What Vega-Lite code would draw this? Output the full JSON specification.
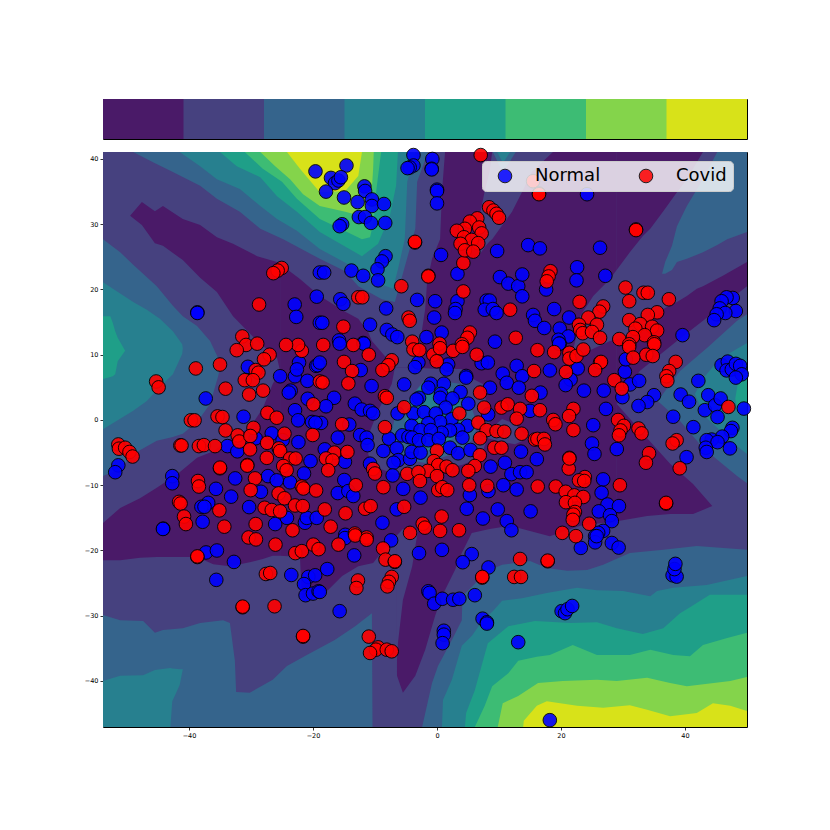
{"$schema":"https://vega.github.io/schema/vega-lite/v6.json","background":"white","padding":{"left":83,"top":98,"right":0,"bottom":0},"spacing":5,"config":{"font":"DejaVu Sans","view":{"stroke":"black","strokeWidth":1}},"vconcat":[{"width":644,"height":40,"data":{"values":[{"a":0,"b":1.02,"l":0},{"a":1,"b":2.02,"l":1},{"a":2,"b":3.02,"l":2},{"a":3,"b":4.02,"l":3},{"a":4,"b":5.02,"l":4},{"a":5,"b":6.02,"l":5},{"a":6,"b":7.02,"l":6},{"a":7,"b":8,"l":7}]},"mark":{"type":"rect","stroke":null},"encoding":{"x":{"field":"a","type":"quantitative","axis":null,"scale":{"domain":[0,8],"nice":false}},"x2":{"field":"b"},"color":{"field":"l","type":"nominal","legend":null,"scale":{"domain":[0,1,2,3,4,5,6,7],"range":["#4a1a68","#46417f","#35648c","#27808f","#1f9f88","#3dbc74","#84d44b","#d8e219"]}}}},{"width":644,"height":575,"resolve":{"scale":{"color":"independent"}},"layer":[{"data":{"values":[
{"r":"base","l":1,"x":-53.87,"y":-47.05,"y2":41.07},{"r":"base","l":1,"x":50,"y":-47.05,"y2":41.07},
{"r":"a1","l":0,"x":-49.5,"y":31.3,"y2":31.3},{"r":"a1","l":0,"x":-47.6,"y":33.4,"y2":29.9},{"r":"a1","l":0,"x":-45.5,"y":32,"y2":27.1},{"r":"a1","l":0,"x":-44.2,"y":32.8,"y2":26.7},{"r":"a1","l":0,"x":-41,"y":30.8,"y2":24.5},{"r":"a1","l":0,"x":-38.2,"y":29.9,"y2":21.8},{"r":"a1","l":0,"x":-35.5,"y":28,"y2":19.6},{"r":"a1","l":0,"x":-32.9,"y":27,"y2":15.9},{"r":"a1","l":0,"x":-29,"y":25.1,"y2":12.1},{"r":"a1","l":0,"x":-25.8,"y":24.2,"y2":9.5},{"r":"a1","l":0,"x":-25.3,"y":23.9,"y2":7.5},
{"r":"a2","l":0,"x":-53.87,"y":-15.8,"y2":-21.5},{"r":"a2","l":0,"x":-51.1,"y":-13.5,"y2":-21.5},{"r":"a2","l":0,"x":-47.9,"y":-12,"y2":-21.1},{"r":"a2","l":0,"x":-45.2,"y":-10.4,"y2":-21},{"r":"a2","l":0,"x":-41.9,"y":-8.3,"y2":-21},{"r":"a2","l":0,"x":-38.7,"y":-5.8,"y2":-21},{"r":"a2","l":0,"x":-36.1,"y":-4.8,"y2":-22.1},{"r":"a2","l":0,"x":-33.4,"y":-2.9,"y2":-22.4},{"r":"a2","l":0,"x":-30.2,"y":-1.2,"y2":-21.8},{"r":"a2","l":0,"x":-28.1,"y":1.8,"y2":-21.3},{"r":"a2","l":0,"x":-26.5,"y":5.5,"y2":-20.8},{"r":"a2","l":0,"x":-25.3,"y":7.5,"y2":-20.8},
{"r":"ct","l":0,"x":-25.3,"y":23.9,"y2":-4.75},{"r":"ct","l":0,"x":-22.1,"y":21.6,"y2":-4.75},{"r":"ct","l":0,"x":-18.9,"y":19,"y2":-4.75},{"r":"ct","l":0,"x":-14.8,"y":16.6,"y2":-4.75},{"r":"ct","l":0,"x":-12.7,"y":15.5,"y2":-4.75},{"r":"ct","l":0,"x":-11.1,"y":13.5,"y2":-4.75},{"r":"ct","l":0,"x":-10.5,"y":12.1,"y2":-4.75},{"r":"ct","l":0,"x":-6.8,"y":8,"y2":-4.75},{"r":"ct","l":0,"x":-3.5,"y":8,"y2":-4.75},{"r":"ct","l":0,"x":-2.7,"y":12.1,"y2":-4.75},{"r":"ct","l":0,"x":-1.9,"y":17,"y2":-4.75},{"r":"ct","l":0,"x":-1.6,"y":21.1,"y2":-4.75},{"r":"ct","l":0,"x":-0.8,"y":24.7,"y2":-4.75},{"r":"ct","l":0,"x":0.5,"y":27.7,"y2":-4.75},{"r":"ct","l":0,"x":0.8,"y":34.9,"y2":-4.75},{"r":"ct","l":0,"x":1.3,"y":41.07,"y2":-4.75},{"r":"ct","l":0,"x":29,"y":41.07,"y2":-4.75},
{"r":"cb","l":0,"x":-25.3,"y":-20.8,"y2":-4.75},{"r":"cb","l":0,"x":-22.1,"y":-21,"y2":-4.75},{"r":"cb","l":0,"x":-21.8,"y":-27.3,"y2":-4.75},{"r":"cb","l":0,"x":-19.7,"y":-27.1,"y2":-4.75},{"r":"cb","l":0,"x":-17.6,"y":-26.1,"y2":-4.75},{"r":"cb","l":0,"x":-15.3,"y":-23.9,"y2":-4.75},{"r":"cb","l":0,"x":-12.7,"y":-22.4,"y2":-4.75},{"r":"cb","l":0,"x":-10.3,"y":-21.9,"y2":-4.75},{"r":"cb","l":0,"x":-8.4,"y":-19.6,"y2":-4.75},{"r":"cb","l":0,"x":-6.6,"y":-17.8,"y2":-4.75},{"r":"cb","l":0,"x":-6.45,"y":-39.2,"y2":-4.75},{"r":"cb","l":0,"x":-5.5,"y":-41.8,"y2":-4.75},{"r":"cb","l":0,"x":-3.5,"y":-39.2,"y2":-4.75},{"r":"cb","l":0,"x":-1.9,"y":-35.2,"y2":-4.75},{"r":"cb","l":0,"x":-0.3,"y":-30,"y2":-4.75},{"r":"cb","l":0,"x":0.8,"y":-27,"y2":-4.75},{"r":"cb","l":0,"x":2.9,"y":-23,"y2":-4.75},{"r":"cb","l":0,"x":4,"y":-20.4,"y2":-4.75},{"r":"cb","l":0,"x":5.6,"y":-17.3,"y2":-4.75},{"r":"cb","l":0,"x":8.5,"y":-16.7,"y2":-4.75},{"r":"cb","l":0,"x":11.8,"y":-16.2,"y2":-4.75},{"r":"cb","l":0,"x":15,"y":-17,"y2":-4.75},{"r":"cb","l":0,"x":18.2,"y":-17.8,"y2":-4.75},{"r":"cb","l":0,"x":23.1,"y":-16.2,"y2":-4.75},{"r":"cb","l":0,"x":29,"y":-15.5,"y2":-4.75},
{"r":"arm","l":0,"x":29,"y":41.07,"y2":2.45},{"r":"arm","l":0,"x":32.7,"y":41.07,"y2":7.5},{"r":"arm","l":0,"x":38.7,"y":41.07,"y2":12.1},{"r":"arm","l":0,"x":42.9,"y":41.07,"y2":15.2},{"r":"arm","l":0,"x":50,"y":41.07,"y2":20.5},
{"r":"tri","l":0,"x":29,"y":2.45,"y2":-15.5},{"r":"tri","l":0,"x":33.9,"y":-2.8,"y2":-14.7},{"r":"tri","l":0,"x":37.6,"y":-6.7,"y2":-14.4},{"r":"tri","l":0,"x":41.3,"y":-9.8,"y2":-14.4},{"r":"tri","l":0,"x":44.4,"y":-13.2,"y2":-13.2},
{"r":"w1","l":1,"x":6.6,"y":25.1,"y2":25.1},{"r":"w1","l":1,"x":6.9,"y":31.3,"y2":25.4},{"r":"w1","l":1,"x":7.7,"y":35.1,"y2":26.5},{"r":"w1","l":1,"x":8.5,"y":38.2,"y2":27.4},{"r":"w1","l":1,"x":8.9,"y":41.07,"y2":27.7},{"r":"w1","l":1,"x":12.1,"y":41.07,"y2":31.9},{"r":"w1","l":1,"x":13.7,"y":41.07,"y2":34.9},{"r":"w1","l":1,"x":15.3,"y":41.07,"y2":38},{"r":"w1","l":1,"x":18.7,"y":41.07,"y2":41.07},
{"r":"w2","l":1,"x":21.5,"y":9,"y2":9},{"r":"w2","l":1,"x":22.3,"y":12.1,"y2":9.5},{"r":"w2","l":1,"x":23.1,"y":15.9,"y2":10},{"r":"w2","l":1,"x":25.2,"y":19,"y2":10.9},{"r":"w2","l":1,"x":27.9,"y":21.6,"y2":12.1},{"r":"w2","l":1,"x":31.1,"y":25.7,"y2":12.9},{"r":"w2","l":1,"x":33.2,"y":28.2,"y2":13.5},{"r":"w2","l":1,"x":34.4,"y":29.3,"y2":14.9},{"r":"w2","l":1,"x":36.5,"y":32,"y2":17},{"r":"w2","l":1,"x":38.7,"y":34.9,"y2":18.1},{"r":"w2","l":1,"x":40.3,"y":36.9,"y2":19},{"r":"w2","l":1,"x":41.9,"y":39.5,"y2":20.1},{"r":"w2","l":1,"x":42.9,"y":41.07,"y2":20.5},{"r":"w2","l":1,"x":46.1,"y":41.07,"y2":22.1},{"r":"w2","l":1,"x":50,"y":41.07,"y2":24.2},
{"r":"w4","l":1,"x":-6.6,"y":-17.8,"y2":-39.2},{"r":"w4","l":1,"x":-6.3,"y":-17.5,"y2":-34.2},{"r":"w4","l":1,"x":-5.5,"y":-16.7,"y2":-27.6},{"r":"w4","l":1,"x":-4,"y":-16.7,"y2":-22.4},{"r":"w4","l":1,"x":-3.1,"y":-17,"y2":-17},
{"r":"blob","l":1,"x":-11.1,"y":-5.2,"y2":-5.2},{"r":"blob","l":1,"x":-10.8,"y":-1.7,"y2":-6},{"r":"blob","l":1,"x":-9.5,"y":1.4,"y2":-7.4},{"r":"blob","l":1,"x":-7.3,"y":5.5,"y2":-8.1},{"r":"blob","l":1,"x":-6.8,"y":8,"y2":-8.1},{"r":"blob","l":1,"x":-3.1,"y":8,"y2":-8.3},{"r":"blob","l":1,"x":0.2,"y":7.8,"y2":-7.5},{"r":"blob","l":1,"x":4,"y":7.8,"y2":-6.9},{"r":"blob","l":1,"x":5.6,"y":6.4,"y2":-6.3},{"r":"blob","l":1,"x":7.4,"y":5.5,"y2":-4.75},{"r":"blob","l":1,"x":8.5,"y":-0.15,"y2":-1.7},
{"r":"lobe","l":1,"x":8.2,"y":-1.7,"y2":-2.8},{"r":"lobe","l":1,"x":10.5,"y":0.15,"y2":-3.4},{"r":"lobe","l":1,"x":12.6,"y":-0.6,"y2":-3.7},{"r":"lobe","l":1,"x":14.7,"y":-2.8,"y2":-2.8},
{"r":"t2","l":2,"x":9,"y":41.07,"y2":41.07},{"r":"t2","l":2,"x":10.65,"y":37.9,"y2":41.07},{"r":"t2","l":2,"x":12.7,"y":41.07,"y2":41.07},
{"r":"left2","l":2,"x":-53.87,"y":27.7,"y2":-8.6},{"r":"left2","l":2,"x":-51.1,"y":25.7,"y2":-7.5},{"r":"left2","l":2,"x":-49,"y":23.8,"y2":-5.2},{"r":"left2","l":2,"x":-45.2,"y":20.5,"y2":-3.2},{"r":"left2","l":2,"x":-42.6,"y":17.5,"y2":-2.6},{"r":"left2","l":2,"x":-41,"y":15.9,"y2":-2.1},{"r":"left2","l":2,"x":-38.7,"y":14.4,"y2":-0.3},{"r":"left2","l":2,"x":-36.6,"y":12.1,"y2":2.45},{"r":"left2","l":2,"x":-35.3,"y":9.5,"y2":6.7},{"r":"left2","l":2,"x":-35,"y":8.1,"y2":8.1},
{"r":"top2","l":2,"x":-49,"y":41.07,"y2":41.07},{"r":"top2","l":2,"x":-45.8,"y":41.07,"y2":39.5},{"r":"top2","l":2,"x":-42.6,"y":41.07,"y2":38},{"r":"top2","l":2,"x":-38.2,"y":41.07,"y2":35.9},{"r":"top2","l":2,"x":-35.5,"y":41.07,"y2":33.9},{"r":"top2","l":2,"x":-31.8,"y":41.07,"y2":31.9},{"r":"top2","l":2,"x":-28.5,"y":41.07,"y2":29.3},{"r":"top2","l":2,"x":-24.8,"y":41.07,"y2":27.7},{"r":"top2","l":2,"x":-18.9,"y":41.07,"y2":24.7},{"r":"top2","l":2,"x":-14.8,"y":41.07,"y2":22.8},{"r":"top2","l":2,"x":-12.7,"y":41.07,"y2":20.5},{"r":"top2","l":2,"x":-8.9,"y":41.07,"y2":18.5},{"r":"top2","l":2,"x":-6.8,"y":41.07,"y2":18.1},{"r":"top2","l":2,"x":-5.6,"y":41.07,"y2":22.1},{"r":"top2","l":2,"x":-3.5,"y":41.07,"y2":29.3},{"r":"top2","l":2,"x":-3.2,"y":41.07,"y2":36.5},{"r":"top2","l":2,"x":-1.45,"y":41.07,"y2":41.07},
{"r":"ur2","l":2,"x":36.3,"y":22.4,"y2":22.4},{"r":"ur2","l":2,"x":36.8,"y":24.2,"y2":22.4},{"r":"ur2","l":2,"x":37.9,"y":26.7,"y2":23},{"r":"ur2","l":2,"x":38.7,"y":29.7,"y2":24.2},{"r":"ur2","l":2,"x":40.3,"y":32.8,"y2":24.7},{"r":"ur2","l":2,"x":42.9,"y":36.9,"y2":25.7},{"r":"ur2","l":2,"x":45.2,"y":41.07,"y2":26.8},{"r":"ur2","l":2,"x":46.8,"y":41.07,"y2":27.7},{"r":"ur2","l":2,"x":50,"y":41.07,"y2":28.8},
{"r":"lr2","l":2,"x":35.6,"y":2.9,"y2":2.9},{"r":"lr2","l":2,"x":39.2,"y":7.5,"y2":-0.15},{"r":"lr2","l":2,"x":42.4,"y":10.1,"y2":-3.7},{"r":"lr2","l":2,"x":43.5,"y":11,"y2":-4.75},{"r":"lr2","l":2,"x":48.4,"y":15.2,"y2":-8.6},{"r":"lr2","l":2,"x":50,"y":16.2,"y2":-9.7},
{"r":"bl2","l":2,"x":-53.87,"y":-47.05,"y2":-29.9},{"r":"bl2","l":2,"x":-51.1,"y":-47.05,"y2":-30.7},{"r":"bl2","l":2,"x":-47.4,"y":-47.05,"y2":-30.8},{"r":"bl2","l":2,"x":-45.5,"y":-47.05,"y2":-32.6},{"r":"bl2","l":2,"x":-44.2,"y":-47.05,"y2":-32.2},{"r":"bl2","l":2,"x":-41,"y":-47.05,"y2":-31.9},{"r":"bl2","l":2,"x":-38.2,"y":-47.05,"y2":-31.1},{"r":"bl2","l":2,"x":-34.5,"y":-47.05,"y2":-30.7},{"r":"bl2","l":2,"x":-33.4,"y":-47.05,"y2":-31.1},{"r":"bl2","l":2,"x":-32.6,"y":-47.05,"y2":-36.9},{"r":"bl2","l":2,"x":-32.4,"y":-47.05,"y2":-41.7},{"r":"bl2","l":2,"x":-30.2,"y":-47.05,"y2":-41.8},{"r":"bl2","l":2,"x":-26.5,"y":-47.05,"y2":-39.8},{"r":"bl2","l":2,"x":-24.2,"y":-47.05,"y2":-37.7},{"r":"bl2","l":2,"x":-21,"y":-47.05,"y2":-36},{"r":"bl2","l":2,"x":-16.5,"y":-47.05,"y2":-33.7},{"r":"bl2","l":2,"x":-13.2,"y":-47.05,"y2":-31.6},{"r":"bl2","l":2,"x":-10.5,"y":-47.05,"y2":-29.6},{"r":"bl2","l":2,"x":-10.4,"y":-47.05,"y2":-47.05},
{"r":"br2","l":2,"x":-2.4,"y":-47.05,"y2":-47.05},{"r":"br2","l":2,"x":-0.8,"y":-47.05,"y2":-40.3},{"r":"br2","l":2,"x":0.16,"y":-47.05,"y2":-37.7},{"r":"br2","l":2,"x":2.4,"y":-47.05,"y2":-33.7},{"r":"br2","l":2,"x":4,"y":-47.05,"y2":-30.7},{"r":"br2","l":2,"x":4.1,"y":-47.05,"y2":-27},{"r":"br2","l":2,"x":8.2,"y":-47.05,"y2":-23.1},{"r":"br2","l":2,"x":10.5,"y":-47.05,"y2":-22.2},{"r":"br2","l":2,"x":15,"y":-47.05,"y2":-21.6},{"r":"br2","l":2,"x":17.7,"y":-47.05,"y2":-22.7},{"r":"br2","l":2,"x":21,"y":-47.05,"y2":-23.1},{"r":"br2","l":2,"x":24.2,"y":-47.05,"y2":-23},{"r":"br2","l":2,"x":26.8,"y":-47.05,"y2":-22.2},{"r":"br2","l":2,"x":31.1,"y":-47.05,"y2":-20.4},{"r":"br2","l":2,"x":36.5,"y":-47.05,"y2":-19.9},{"r":"br2","l":2,"x":41.9,"y":-47.05,"y2":-19.3},{"r":"br2","l":2,"x":50,"y":-47.05,"y2":-19.9},
{"r":"c2","l":2,"x":-7.6,"y":-2.8,"y2":-2.8},{"r":"c2","l":2,"x":-6.8,"y":0.3,"y2":-4.3},{"r":"c2","l":2,"x":-5.2,"y":2.45,"y2":-6},{"r":"c2","l":2,"x":-1.9,"y":6.3,"y2":-6.6},{"r":"c2","l":2,"x":4,"y":5.5,"y2":-4.75},{"r":"c2","l":2,"x":5.6,"y":1.8,"y2":-3.2},{"r":"c2","l":2,"x":6.6,"y":-0.9,"y2":-0.9},
{"r":"t3","l":3,"x":9.7,"y":41.07,"y2":41.07},{"r":"t3","l":3,"x":10.65,"y":39.4,"y2":41.07},{"r":"t3","l":3,"x":11.8,"y":41.07,"y2":41.07},
{"r":"left3","l":3,"x":-53.87,"y":21.1,"y2":-1.4},{"r":"left3","l":3,"x":-49,"y":18.1,"y2":1.4},{"r":"left3","l":3,"x":-46.8,"y":16.9,"y2":2.9},{"r":"left3","l":3,"x":-44.7,"y":15.5,"y2":5.1},{"r":"left3","l":3,"x":-42.6,"y":13.6,"y2":7},{"r":"left3","l":3,"x":-41.1,"y":11.6,"y2":10.1},{"r":"left3","l":3,"x":-41,"y":11,"y2":11},
{"r":"top3","l":3,"x":-41.5,"y":41.07,"y2":41.07},{"r":"top3","l":3,"x":-38.2,"y":41.07,"y2":38.9},{"r":"top3","l":3,"x":-35.5,"y":41.07,"y2":36.9},{"r":"top3","l":3,"x":-31.8,"y":41.07,"y2":35.4},{"r":"top3","l":3,"x":-28.5,"y":41.07,"y2":32.8},{"r":"top3","l":3,"x":-25.8,"y":41.07,"y2":30.8},{"r":"top3","l":3,"x":-22.6,"y":41.07,"y2":29},{"r":"top3","l":3,"x":-18.9,"y":41.07,"y2":26.2},{"r":"top3","l":3,"x":-13.2,"y":41.07,"y2":23.3},{"r":"top3","l":3,"x":-9.5,"y":41.07,"y2":21},{"r":"top3","l":3,"x":-7.1,"y":41.07,"y2":20.1},{"r":"top3","l":3,"x":-6.3,"y":41.07,"y2":23.1},{"r":"top3","l":3,"x":-5.2,"y":41.07,"y2":27.7},{"r":"top3","l":3,"x":-4.8,"y":41.07,"y2":36.5},{"r":"top3","l":3,"x":-3.5,"y":41.07,"y2":41.07},
{"r":"lr3","l":3,"x":41.6,"y":4,"y2":4},{"r":"lr3","l":3,"x":42.9,"y":6.4,"y2":1.1},{"r":"lr3","l":3,"x":43.5,"y":7,"y2":0.3},{"r":"lr3","l":3,"x":45.2,"y":9,"y2":-1.2},{"r":"lr3","l":3,"x":47.3,"y":10.3,"y2":-3.2},{"r":"lr3","l":3,"x":50,"y":11.8,"y2":-5.2},
{"r":"bl3","l":3,"x":-53.87,"y":-47.05,"y2":-40},{"r":"bl3","l":3,"x":-51.1,"y":-47.05,"y2":-39.2},{"r":"bl3","l":3,"x":-47.4,"y":-47.05,"y2":-39.1},{"r":"bl3","l":3,"x":-45.5,"y":-47.05,"y2":-38.3},{"r":"bl3","l":3,"x":-43,"y":-47.05,"y2":-38},{"r":"bl3","l":3,"x":-42.7,"y":-43.1,"y2":-38.1},{"r":"bl3","l":3,"x":-41.5,"y":-40.6,"y2":-38.2},{"r":"bl3","l":3,"x":-41,"y":-38.2,"y2":-38.2},
{"r":"br3","l":3,"x":0.8,"y":-47.05,"y2":-47.05},{"r":"br3","l":3,"x":0.97,"y":-47.05,"y2":-42.9},{"r":"br3","l":3,"x":2.4,"y":-47.05,"y2":-39.8},{"r":"br3","l":3,"x":4,"y":-47.05,"y2":-34.6},{"r":"br3","l":3,"x":5.6,"y":-47.05,"y2":-33.1},{"r":"br3","l":3,"x":7.3,"y":-47.05,"y2":-30.8},{"r":"br3","l":3,"x":9,"y":-47.05,"y2":-29.3},{"r":"br3","l":3,"x":10.5,"y":-47.05,"y2":-27.7},{"r":"br3","l":3,"x":13.7,"y":-47.05,"y2":-27.3},{"r":"br3","l":3,"x":17.7,"y":-47.05,"y2":-26.5},{"r":"br3","l":3,"x":22.6,"y":-47.05,"y2":-25.7},{"r":"br3","l":3,"x":25.8,"y":-47.05,"y2":-26.1},{"r":"br3","l":3,"x":30,"y":-47.05,"y2":-26.2},{"r":"br3","l":3,"x":34.4,"y":-47.05,"y2":-27},{"r":"br3","l":3,"x":35.5,"y":-47.05,"y2":-26.2},{"r":"br3","l":3,"x":38.1,"y":-47.05,"y2":-25.7},{"r":"br3","l":3,"x":43.5,"y":-47.05,"y2":-25.3},{"r":"br3","l":3,"x":50,"y":-47.05,"y2":-23.9},
{"r":"c3","l":3,"x":-5.6,"y":-1.7,"y2":-1.7},{"r":"c3","l":3,"x":-4,"y":3.7,"y2":-4},{"r":"c3","l":3,"x":-1.9,"y":6,"y2":-4.75},{"r":"c3","l":3,"x":1.3,"y":5.2,"y2":-4},{"r":"c3","l":3,"x":3.7,"y":2.9,"y2":-1.7},
{"r":"left4","l":4,"x":-53.87,"y":15.9,"y2":6.3},{"r":"left4","l":4,"x":-52.7,"y":15.9,"y2":6.6},{"r":"left4","l":4,"x":-52.3,"y":14.9,"y2":6.7},{"r":"left4","l":4,"x":-51.9,"y":13.6,"y2":7},{"r":"left4","l":4,"x":-51.5,"y":12.6,"y2":9},{"r":"left4","l":4,"x":-50.3,"y":10.6,"y2":10.6},
{"r":"top4","l":4,"x":-35,"y":41.07,"y2":41.07},{"r":"top4","l":4,"x":-32.3,"y":41.07,"y2":38.9},{"r":"top4","l":4,"x":-28.5,"y":41.07,"y2":37.2},{"r":"top4","l":4,"x":-25.8,"y":41.07,"y2":34.3},{"r":"top4","l":4,"x":-22.6,"y":41.07,"y2":31.9},{"r":"top4","l":4,"x":-18.9,"y":41.07,"y2":28.8},{"r":"top4","l":4,"x":-15.6,"y":41.07,"y2":27},{"r":"top4","l":4,"x":-12.1,"y":41.07,"y2":25.1},{"r":"top4","l":4,"x":-9.5,"y":41.07,"y2":27},{"r":"top4","l":4,"x":-7.6,"y":41.07,"y2":31.3},{"r":"top4","l":4,"x":-6.6,"y":41.07,"y2":35.9},{"r":"top4","l":4,"x":-6.3,"y":41.07,"y2":41.07},
{"r":"lr4","l":4,"x":48.1,"y":3.2,"y2":3.2},{"r":"lr4","l":4,"x":48.5,"y":5.5,"y2":1.4},{"r":"lr4","l":4,"x":50,"y":6.4,"y2":2.45},
{"r":"br4","l":4,"x":4.5,"y":-47.05,"y2":-47.05},{"r":"br4","l":4,"x":4.7,"y":-47.05,"y2":-44.9},{"r":"br4","l":4,"x":6.1,"y":-47.05,"y2":-41.4},{"r":"br4","l":4,"x":8.2,"y":-47.05,"y2":-34.2},{"r":"br4","l":4,"x":11.5,"y":-47.05,"y2":-31.6},{"r":"br4","l":4,"x":15.8,"y":-47.05,"y2":-30.8},{"r":"br4","l":4,"x":21.5,"y":-47.05,"y2":-31.1},{"r":"br4","l":4,"x":25.8,"y":-47.05,"y2":-31},{"r":"br4","l":4,"x":29,"y":-47.05,"y2":-31.9},{"r":"br4","l":4,"x":33.2,"y":-47.05,"y2":-32.8},{"r":"br4","l":4,"x":36.5,"y":-47.05,"y2":-31.9},{"r":"br4","l":4,"x":39.2,"y":-47.05,"y2":-29.6},{"r":"br4","l":4,"x":40.8,"y":-47.05,"y2":-28.7},{"r":"br4","l":4,"x":44,"y":-47.05,"y2":-26.8},{"r":"br4","l":4,"x":50,"y":-47.05,"y2":-26.8},
{"r":"top5","l":5,"x":-31,"y":41.07,"y2":41.07},{"r":"top5","l":5,"x":-28.1,"y":41.07,"y2":38.5},{"r":"top5","l":5,"x":-25,"y":41.07,"y2":36.5},{"r":"top5","l":5,"x":-22.6,"y":41.07,"y2":33.9},{"r":"top5","l":5,"x":-18.9,"y":41.07,"y2":30.8},{"r":"top5","l":5,"x":-15.6,"y":41.07,"y2":29.3},{"r":"top5","l":5,"x":-12.1,"y":41.07,"y2":27.7},{"r":"top5","l":5,"x":-10.8,"y":41.07,"y2":28},{"r":"top5","l":5,"x":-10.2,"y":41.07,"y2":30.5},{"r":"top5","l":5,"x":-9.8,"y":41.07,"y2":35.1},{"r":"top5","l":5,"x":-9.2,"y":41.07,"y2":39.7},{"r":"top5","l":5,"x":-9,"y":41.07,"y2":41.07},
{"r":"br5","l":5,"x":6.1,"y":-47.05,"y2":-47.05},{"r":"br5","l":5,"x":7.7,"y":-47.05,"y2":-43.8},{"r":"br5","l":5,"x":8.9,"y":-47.05,"y2":-40.8},{"r":"br5","l":5,"x":11.5,"y":-47.05,"y2":-38.8},{"r":"br5","l":5,"x":13.1,"y":-47.05,"y2":-36.9},{"r":"br5","l":5,"x":16.1,"y":-47.05,"y2":-36.3},{"r":"br5","l":5,"x":18.2,"y":-47.05,"y2":-36},{"r":"br5","l":5,"x":21.9,"y":-47.05,"y2":-34.5},{"r":"br5","l":5,"x":25.8,"y":-47.05,"y2":-36},{"r":"br5","l":5,"x":31.1,"y":-47.05,"y2":-36},{"r":"br5","l":5,"x":34.4,"y":-47.05,"y2":-35.2},{"r":"br5","l":5,"x":38.1,"y":-47.05,"y2":-36},{"r":"br5","l":5,"x":40.8,"y":-47.05,"y2":-36.2},{"r":"br5","l":5,"x":42.9,"y":-47.05,"y2":-34.5},{"r":"br5","l":5,"x":46.8,"y":-47.05,"y2":-33.4},{"r":"br5","l":5,"x":50,"y":-47.05,"y2":-32.6},
{"r":"top6","l":6,"x":-28.5,"y":41.07,"y2":41.07},{"r":"top6","l":6,"x":-26.1,"y":41.07,"y2":38.9},{"r":"top6","l":6,"x":-23.7,"y":41.07,"y2":36.9},{"r":"top6","l":6,"x":-21.6,"y":41.07,"y2":34.6},{"r":"top6","l":6,"x":-18.9,"y":41.07,"y2":32.8},{"r":"top6","l":6,"x":-14.8,"y":41.07,"y2":31.9},{"r":"top6","l":6,"x":-12.4,"y":41.07,"y2":31.3},{"r":"top6","l":6,"x":-11.1,"y":41.07,"y2":31.9},{"r":"top6","l":6,"x":-10.5,"y":41.07,"y2":35.4},{"r":"top6","l":6,"x":-10.3,"y":41.07,"y2":38.5},{"r":"top6","l":6,"x":-10.2,"y":41.07,"y2":41.07},
{"r":"br6","l":6,"x":9.8,"y":-47.05,"y2":-47.05},{"r":"br6","l":6,"x":10.6,"y":-47.05,"y2":-43.4},{"r":"br6","l":6,"x":13.1,"y":-47.05,"y2":-42.3},{"r":"br6","l":6,"x":16.3,"y":-47.05,"y2":-40.3},{"r":"br6","l":6,"x":20.3,"y":-47.05,"y2":-40},{"r":"br6","l":6,"x":25.8,"y":-47.05,"y2":-39.8},{"r":"br6","l":6,"x":29,"y":-47.05,"y2":-40},{"r":"br6","l":6,"x":33.9,"y":-47.05,"y2":-39.5},{"r":"br6","l":6,"x":37.6,"y":-47.05,"y2":-40.3},{"r":"br6","l":6,"x":40.3,"y":-47.05,"y2":-40.8},{"r":"br6","l":6,"x":47.3,"y":-47.05,"y2":-40},{"r":"br6","l":6,"x":50,"y":-47.05,"y2":-39.4},
{"r":"top7","l":7,"x":-24.2,"y":41.07,"y2":41.07},{"r":"top7","l":7,"x":-22.1,"y":41.07,"y2":38.5},{"r":"top7","l":7,"x":-18.9,"y":41.07,"y2":34.9},{"r":"top7","l":7,"x":-14.8,"y":41.07,"y2":35.1},{"r":"top7","l":7,"x":-12.7,"y":41.07,"y2":37.4},{"r":"top7","l":7,"x":-12.1,"y":41.07,"y2":41.07},
{"r":"br7","l":7,"x":13.9,"y":-47.05,"y2":-47.05},{"r":"br7","l":7,"x":14,"y":-47.05,"y2":-46.1},{"r":"br7","l":7,"x":16.1,"y":-47.05,"y2":-43.8},{"r":"br7","l":7,"x":17.7,"y":-47.05,"y2":-43.1},{"r":"br7","l":7,"x":22.6,"y":-47.05,"y2":-43.8},{"r":"br7","l":7,"x":26.8,"y":-47.05,"y2":-44.1},{"r":"br7","l":7,"x":31.1,"y":-47.05,"y2":-43.7},{"r":"br7","l":7,"x":33.9,"y":-47.05,"y2":-44.4},{"r":"br7","l":7,"x":37.6,"y":-47.05,"y2":-45.4},{"r":"br7","l":7,"x":41.9,"y":-47.05,"y2":-44.9},{"r":"br7","l":7,"x":44.5,"y":-47.05,"y2":-43.4},{"r":"br7","l":7,"x":47.3,"y":-47.05,"y2":-43.8},{"r":"br7","l":7,"x":50,"y":-47.05,"y2":-44.6}
]},"mark":{"type":"area","orient":"vertical","interpolate":"linear","clip":true},"encoding":{"x":{"field":"x","type":"quantitative","title":null,"scale":{"domain":[-53.87,50],"nice":false,"zero":false},"axis":{"values":[-40,-20,0,20,40],"grid":false,"domain":false,"labelFontSize":6.5,"tickSize":3,"tickWidth":0.8,"tickColor":"black","labelColor":"black","labelPadding":2}},"y":{"field":"y","type":"quantitative","stack":null,"title":null,"scale":{"domain":[-47.05,41.07],"nice":false,"zero":false},"axis":{"values":[-40,-30,-20,-10,0,10,20,30,40],"grid":false,"domain":false,"labelFontSize":6.5,"tickSize":3,"tickWidth":0.8,"tickColor":"black","labelColor":"black","labelPadding":2}},"y2":{"field":"y2"},"detail":{"field":"r"},"color":{"field":"l","type":"nominal","legend":null,"scale":{"domain":[0,1,2,3,4,5,6,7],"range":["#4a1a68","#46417f","#35648c","#27808f","#1f9f88","#3dbc74","#84d44b","#d8e219"]}}}},
{"data":{"values":[
{"x":-19.6,"y":38.1,"c":"Normal"},{"x":-38.65,"y":16.5,"c":"Normal"},{"x":-38.65,"y":16.4,"c":"Normal"},{"x":-22.95,"y":17.7,"c":"Normal"},{"x":-22.7,"y":15.8,"c":"Normal"},{"x":-19.4,"y":18.9,"c":"Normal"},{"x":-18.9,"y":22.6,"c":"Normal"},{"x":-18.9,"y":14.9,"c":"Normal"},{"x":-14.6,"y":39,"c":"Normal"},{"x":-17.1,"y":37.1,"c":"Normal"},{"x":-16.45,"y":36.3,"c":"Normal"},{"x":-15.9,"y":36.7,"c":"Normal"},{"x":-15.5,"y":37.2,"c":"Normal"},{"x":-17.9,"y":35,"c":"Normal"},{"x":-15,"y":34.1,"c":"Normal"},{"x":-11.7,"y":35.8,"c":"Normal"},{"x":-11.6,"y":35.1,"c":"Normal"},{"x":-12.8,"y":33.4,"c":"Normal"},{"x":-10.5,"y":33.8,"c":"Normal"},{"x":-10.5,"y":32.8,"c":"Normal"},{"x":-8.55,"y":33.1,"c":"Normal"},{"x":-12.6,"y":31.1,"c":"Normal"},{"x":-11.6,"y":31.1,"c":"Normal"},{"x":-10.65,"y":30.2,"c":"Normal"},{"x":-8.35,"y":30.2,"c":"Normal"},{"x":-15.3,"y":30,"c":"Normal"},{"x":-15.7,"y":29.7,"c":"Normal"},{"x":-3.8,"y":40.6,"c":"Normal"},{"x":-3.8,"y":39,"c":"Normal"},{"x":-4.4,"y":38.7,"c":"Normal"},{"x":-4.75,"y":38.6,"c":"Normal"},{"x":-0.75,"y":40,"c":"Normal"},{"x":-0.85,"y":38.5,"c":"Normal"},{"x":-0.85,"y":38.4,"c":"Normal"},{"x":0,"y":35.3,"c":"Normal"},{"x":0,"y":35.1,"c":"Normal"},{"x":0,"y":33.2,"c":"Normal"},{"x":-8.3,"y":25.1,"c":"Normal"},{"x":-8.9,"y":24.3,"c":"Normal"},{"x":-9.6,"y":23.1,"c":"Normal"},{"x":-9.5,"y":21.4,"c":"Normal"},{"x":-13.8,"y":22.9,"c":"Normal"},{"x":-11.9,"y":22.1,"c":"Normal"},{"x":-18.2,"y":22.6,"c":"Normal"},{"x":0.65,"y":25.3,"c":"Normal"},{"x":3.3,"y":22.4,"c":"Normal"},{"x":9.7,"y":25.9,"c":"Normal"},{"x":14.7,"y":26.8,"c":"Normal"},{"x":10.15,"y":21.9,"c":"Normal"},{"x":11.5,"y":20.9,"c":"Normal"},{"x":13.1,"y":20.5,"c":"Normal"},{"x":13.75,"y":22.3,"c":"Normal"},{"x":13.75,"y":18.95,"c":"Normal"},{"x":8,"y":18.3,"c":"Normal"},{"x":8.5,"y":18.3,"c":"Normal"},{"x":7.7,"y":16.9,"c":"Normal"},{"x":9,"y":17,"c":"Normal"},{"x":9.6,"y":16.4,"c":"Normal"},{"x":3.3,"y":18.2,"c":"Normal"},{"x":3,"y":17,"c":"Normal"},{"x":2.9,"y":16.4,"c":"Normal"},{"x":-0.3,"y":18.2,"c":"Normal"},{"x":-3.2,"y":18.4,"c":"Normal"},{"x":-8.2,"y":17.1,"c":"Normal"},{"x":-0.45,"y":15.7,"c":"Normal"},{"x":0.75,"y":13.4,"c":"Normal"},{"x":-1.7,"y":12.7,"c":"Normal"},{"x":-8.1,"y":13.8,"c":"Normal"},{"x":-7.2,"y":13.1,"c":"Normal"},{"x":-6.4,"y":12.7,"c":"Normal"},{"x":-10.8,"y":14.6,"c":"Normal"},{"x":-18.5,"y":14.9,"c":"Normal"},{"x":-15.6,"y":18.5,"c":"Normal"},{"x":-15.1,"y":17.8,"c":"Normal"},{"x":-15.8,"y":12.2,"c":"Normal"},{"x":-11.9,"y":11.8,"c":"Normal"},{"x":9.35,"y":12,"c":"Normal"},{"x":15.5,"y":16.1,"c":"Normal"},{"x":15.8,"y":15.2,"c":"Normal"},{"x":24.2,"y":34.6,"c":"Normal"},{"x":16.6,"y":26.3,"c":"Normal"},{"x":26.3,"y":26.4,"c":"Normal"},{"x":22.6,"y":23.4,"c":"Normal"},{"x":22.5,"y":21.4,"c":"Normal"},{"x":27.15,"y":22.1,"c":"Normal"},{"x":17.6,"y":20,"c":"Normal"},{"x":18.9,"y":17,"c":"Normal"},{"x":21.3,"y":15.7,"c":"Normal"},{"x":17.3,"y":14.1,"c":"Normal"},{"x":19.8,"y":14,"c":"Normal"},{"x":21.2,"y":12.8,"c":"Normal"},{"x":19.6,"y":12.3,"c":"Normal"},{"x":19.8,"y":11.7,"c":"Normal"},{"x":39.6,"y":13,"c":"Normal"},{"x":47.7,"y":18.7,"c":"Normal"},{"x":46.7,"y":18.8,"c":"Normal"},{"x":45.9,"y":18.2,"c":"Normal"},{"x":45.6,"y":17.1,"c":"Normal"},{"x":48.2,"y":16.7,"c":"Normal"},{"x":46.5,"y":16.4,"c":"Normal"},{"x":45.1,"y":16.2,"c":"Normal"},{"x":44.7,"y":15.3,"c":"Normal"},
{"x":-30.5,"y":8.15,"c":"Normal"},{"x":-37.3,"y":3.3,"c":"Normal"},{"x":-31.2,"y":0.5,"c":"Normal"},{"x":-26.65,"y":-2.05,"c":"Normal"},{"x":-29.25,"y":-2.8,"c":"Normal"},{"x":-33.8,"y":-4,"c":"Normal"},{"x":-32.2,"y":-4.8,"c":"Normal"},{"x":-24.9,"y":-3.1,"c":"Normal"},{"x":-22.35,"y":-3.4,"c":"Normal"},{"x":-20.4,"y":-6.3,"c":"Normal"},{"x":-51.4,"y":-6.95,"c":"Normal"},{"x":-51.9,"y":-8,"c":"Normal"},{"x":-42.7,"y":-8.6,"c":"Normal"},{"x":-42.7,"y":-9.7,"c":"Normal"},{"x":-35.65,"y":-10.55,"c":"Normal"},{"x":-32.55,"y":-8.95,"c":"Normal"},{"x":-33.2,"y":-11.75,"c":"Normal"},{"x":-28.4,"y":-11,"c":"Normal"},{"x":-27.25,"y":-8.6,"c":"Normal"},{"x":-25.85,"y":-9.25,"c":"Normal"},{"x":-23.7,"y":-9.55,"c":"Normal"},{"x":-21.45,"y":-8.2,"c":"Normal"},{"x":-30.3,"y":-13.35,"c":"Normal"},{"x":-36.9,"y":-12.7,"c":"Normal"},{"x":-38,"y":-13.3,"c":"Normal"},{"x":-37.5,"y":-13.3,"c":"Normal"},{"x":-37.8,"y":-15.6,"c":"Normal"},{"x":-44.15,"y":-16.65,"c":"Normal"},{"x":-44.2,"y":-16.7,"c":"Normal"},{"x":-26.1,"y":-15.95,"c":"Normal"},{"x":-24.2,"y":-15,"c":"Normal"},{"x":-21.3,"y":-15.75,"c":"Normal"},{"x":-21,"y":-15,"c":"Normal"},{"x":-19.4,"y":-15,"c":"Normal"},{"x":-25.3,"y":6.7,"c":"Normal"},{"x":-22.9,"y":6.7,"c":"Normal"},{"x":-22.25,"y":8.8,"c":"Normal"},{"x":-22.6,"y":7.75,"c":"Normal"},{"x":-20.9,"y":6,"c":"Normal"},{"x":-19.5,"y":8.3,"c":"Normal"},{"x":-23.6,"y":4.5,"c":"Normal"},{"x":-23.9,"y":4.2,"c":"Normal"},{"x":-20.85,"y":3.25,"c":"Normal"},{"x":-22.9,"y":1.5,"c":"Normal"},{"x":-22.4,"y":-0.05,"c":"Normal"},{"x":-20.15,"y":-0.3,"c":"Normal"},
{"x":-19.25,"y":8.4,"c":"Normal"},{"x":-18.9,"y":8.8,"c":"Normal"},{"x":-12.3,"y":7.65,"c":"Normal"},{"x":-10.55,"y":5.2,"c":"Normal"},{"x":-16.6,"y":3.4,"c":"Normal"},{"x":-17.9,"y":2.1,"c":"Normal"},{"x":-13.25,"y":2.5,"c":"Normal"},{"x":-12.15,"y":1.6,"c":"Normal"},{"x":-10.8,"y":1.4,"c":"Normal"},{"x":-10.3,"y":1,"c":"Normal"},{"x":-14.15,"y":-0.7,"c":"Normal"},{"x":-18.7,"y":-0.45,"c":"Normal"},{"x":-19.6,"y":-0.4,"c":"Normal"},{"x":-12.4,"y":-2.3,"c":"Normal"},{"x":-11.35,"y":-2.7,"c":"Normal"},{"x":-11.2,"y":-3.85,"c":"Normal"},{"x":-16,"y":-2.7,"c":"Normal"},{"x":-18.1,"y":-4.5,"c":"Normal"},{"x":-14.85,"y":-6.4,"c":"Normal"},{"x":-10.8,"y":-6.7,"c":"Normal"},{"x":-8.65,"y":-4.75,"c":"Normal"},{"x":-7.75,"y":-2.85,"c":"Normal"},{"x":-6.5,"y":-4.35,"c":"Normal"},{"x":-6.25,"y":-6.15,"c":"Normal"},{"x":-7,"y":-6.55,"c":"Normal"},{"x":-4.35,"y":-5.95,"c":"Normal"},{"x":-4.1,"y":-4.9,"c":"Normal"},{"x":-2.65,"y":-5,"c":"Normal"},{"x":-7.15,"y":-8.5,"c":"Normal"},{"x":-14.95,"y":-9.2,"c":"Normal"},{"x":-16,"y":-11.2,"c":"Normal"},{"x":-14.3,"y":-10.9,"c":"Normal"},{"x":-13.5,"y":-11.65,"c":"Normal"},{"x":-5.45,"y":-10.55,"c":"Normal"},{"x":-2.65,"y":-11.9,"c":"Normal"},{"x":-8.8,"y":-15.75,"c":"Normal"},{"x":-6.5,"y":-13.7,"c":"Normal"},{"x":-14.8,"y":-17.6,"c":"Normal"},{"x":-5.3,"y":5.45,"c":"Normal"},{"x":-1,"y":5.55,"c":"Normal"},{"x":-1.4,"y":4.95,"c":"Normal"},{"x":1.1,"y":5.55,"c":"Normal"},{"x":0.65,"y":4,"c":"Normal"},{"x":0.5,"y":3.4,"c":"Normal"},{"x":3.8,"y":4.3,"c":"Normal"},{"x":-2.9,"y":3.4,"c":"Normal"},{"x":-3.3,"y":3.15,"c":"Normal"},{"x":2.5,"y":3.3,"c":"Normal"},{"x":5.05,"y":2.5,"c":"Normal"},{"x":1.4,"y":1.9,"c":"Normal"},{"x":-3.8,"y":1,"c":"Normal"},{"x":-2.1,"y":1.2,"c":"Normal"},{"x":-6.35,"y":1,"c":"Normal"},{"x":-0.2,"y":1,"c":"Normal"},{"x":2.35,"y":0.1,"c":"Normal"},{"x":0.5,"y":-0.3,"c":"Normal"},{"x":-1.4,"y":-0.5,"c":"Normal"},{"x":-4.1,"y":-0.9,"c":"Normal"},{"x":4.9,"y":-0.9,"c":"Normal"},{"x":3.4,"y":-1.5,"c":"Normal"},{"x":2.1,"y":-1.6,"c":"Normal"},{"x":0.75,"y":-1.95,"c":"Normal"},{"x":-2.65,"y":-1.55,"c":"Normal"},{"x":-1,"y":-1.55,"c":"Normal"},{"x":-5.6,"y":-2.35,"c":"Normal"},{"x":-4.6,"y":-2.6,"c":"Normal"},{"x":-4,"y":-2.7,"c":"Normal"},{"x":-2.9,"y":-3.1,"c":"Normal"},{"x":-1.4,"y":-3.1,"c":"Normal"},{"x":0.3,"y":-2.9,"c":"Normal"},{"x":4.1,"y":-2.7,"c":"Normal"},{"x":2.1,"y":-4.25,"c":"Normal"},{"x":3.4,"y":-5.1,"c":"Normal"},{"x":5.4,"y":-4.6,"c":"Normal"},{"x":8.65,"y":-7.15,"c":"Normal"},{"x":4.7,"y":6.75,"c":"Normal"},{"x":4.7,"y":6.5,"c":"Normal"},{"x":1.8,"y":8.5,"c":"Normal"},{"x":1.55,"y":7.75,"c":"Normal"},{"x":-3,"y":8.8,"c":"Normal"},{"x":-3.55,"y":8.1,"c":"Normal"},{"x":7.2,"y":8.7,"c":"Normal"},{"x":8.2,"y":8.8,"c":"Normal"},{"x":10.6,"y":7.1,"c":"Normal"},{"x":11.25,"y":5.7,"c":"Normal"},{"x":12.85,"y":8.3,"c":"Normal"},{"x":13.75,"y":6.7,"c":"Normal"},{"x":13.2,"y":4.95,"c":"Normal"},{"x":8.55,"y":4.95,"c":"Normal"},{"x":8.25,"y":0.85,"c":"Normal"},{"x":13.55,"y":-4.85,"c":"Normal"},{"x":10.95,"y":-6.55,"c":"Normal"},{"x":12,"y":-8.3,"c":"Normal"},{"x":13.4,"y":-8,"c":"Normal"},{"x":14.45,"y":-8,"c":"Normal"},{"x":10.7,"y":-10,"c":"Normal"},{"x":12.85,"y":-10.65,"c":"Normal"},{"x":8.3,"y":-10.9,"c":"Normal"},{"x":5.3,"y":-11.5,"c":"Normal"},{"x":4.8,"y":-13.6,"c":"Normal"},{"x":7.4,"y":-15.1,"c":"Normal"},{"x":9.8,"y":-13.7,"c":"Normal"},{"x":11.25,"y":-15.5,"c":"Normal"},{"x":12,"y":-16.9,"c":"Normal"},{"x":15.1,"y":-14,"c":"Normal"},{"x":-15.7,"y":11.7,"c":"Normal"},{"x":-11.8,"y":11.7,"c":"Normal"},
{"x":18.2,"y":7.6,"c":"Normal"},{"x":22.7,"y":7.9,"c":"Normal"},{"x":30.3,"y":7.4,"c":"Normal"},{"x":30.45,"y":9.3,"c":"Normal"},{"x":21.55,"y":6.2,"c":"Normal"},{"x":20.75,"y":5.35,"c":"Normal"},{"x":23.7,"y":4.5,"c":"Normal"},{"x":26.9,"y":4.5,"c":"Normal"},{"x":31.15,"y":5.45,"c":"Normal"},{"x":32.6,"y":6,"c":"Normal"},{"x":29.9,"y":3.5,"c":"Normal"},{"x":35,"y":3.8,"c":"Normal"},{"x":33.9,"y":2.75,"c":"Normal"},{"x":32.5,"y":2.15,"c":"Normal"},{"x":39.3,"y":3.9,"c":"Normal"},{"x":40.65,"y":2.8,"c":"Normal"},{"x":42.15,"y":6,"c":"Normal"},{"x":43.75,"y":3.8,"c":"Normal"},{"x":27.25,"y":1.7,"c":"Normal"},{"x":38.1,"y":0.5,"c":"Normal"},{"x":41.35,"y":-1.1,"c":"Normal"},{"x":43.2,"y":1.5,"c":"Normal"},{"x":44.85,"y":2.25,"c":"Normal"},{"x":45.75,"y":3.3,"c":"Normal"},{"x":45.25,"y":0.45,"c":"Normal"},{"x":49.5,"y":1.75,"c":"Normal"},{"x":47.65,"y":-1.2,"c":"Normal"},{"x":47.4,"y":-1.7,"c":"Normal"},{"x":46,"y":-2.55,"c":"Normal"},{"x":44.3,"y":-3,"c":"Normal"},{"x":43.5,"y":-3.1,"c":"Normal"},{"x":45.25,"y":-3.4,"c":"Normal"},{"x":43.35,"y":-4.25,"c":"Normal"},{"x":43.5,"y":-4.9,"c":"Normal"},{"x":47.25,"y":-4.35,"c":"Normal"},{"x":40.25,"y":-5.7,"c":"Normal"},{"x":25.2,"y":-0.8,"c":"Normal"},{"x":25,"y":-3.6,"c":"Normal"},{"x":25.4,"y":-5.2,"c":"Normal"},{"x":29,"y":-4.45,"c":"Normal"},{"x":16.1,"y":-6,"c":"Normal"},{"x":26.8,"y":-9.1,"c":"Normal"},{"x":26.55,"y":-11.15,"c":"Normal"},{"x":27.5,"y":-12.95,"c":"Normal"},{"x":29.35,"y":-13.2,"c":"Normal"},{"x":26.1,"y":-14,"c":"Normal"},{"x":27.9,"y":-14.6,"c":"Normal"},{"x":28.2,"y":-15.5,"c":"Normal"},{"x":26.8,"y":-17,"c":"Normal"},{"x":26,"y":-17.3,"c":"Normal"},{"x":25.5,"y":-17.8,"c":"Normal"},{"x":16.7,"y":4.2,"c":"Normal"},{"x":15,"y":1.4,"c":"Normal"},{"x":45.9,"y":8.4,"c":"Normal"},{"x":46.9,"y":8.95,"c":"Normal"},{"x":46.7,"y":7.6,"c":"Normal"},{"x":47.55,"y":7.75,"c":"Normal"},{"x":48.2,"y":8.6,"c":"Normal"},{"x":48.9,"y":8.3,"c":"Normal"},{"x":49.15,"y":7,"c":"Normal"},{"x":48.2,"y":6.5,"c":"Normal"},{"x":19.7,"y":11.7,"c":"Normal"},
{"x":-37.25,"y":-20.3,"c":"Normal"},{"x":-35.5,"y":-20,"c":"Normal"},{"x":-32.75,"y":-21.75,"c":"Normal"},{"x":-35.6,"y":-24.5,"c":"Normal"},{"x":-23.5,"y":-23.75,"c":"Normal"},{"x":-20.75,"y":-24.05,"c":"Normal"},{"x":-19.65,"y":-23.8,"c":"Normal"},{"x":-21.45,"y":-25.15,"c":"Normal"},{"x":-21.2,"y":-26.85,"c":"Normal"},{"x":-20,"y":-26.6,"c":"Normal"},{"x":-19.1,"y":-26.25,"c":"Normal"},{"x":-14.85,"y":-18.1,"c":"Normal"},{"x":-13.35,"y":-20.75,"c":"Normal"},{"x":-7.4,"y":-18.45,"c":"Normal"},{"x":-2.9,"y":-20.4,"c":"Normal"},{"x":0.8,"y":-19.9,"c":"Normal"},{"x":-17.7,"y":-22.85,"c":"Normal"},{"x":-18.9,"y":-26.35,"c":"Normal"},{"x":-15.7,"y":-29.3,"c":"Normal"},{"x":5.6,"y":-20.55,"c":"Normal"},{"x":4.15,"y":-21.8,"c":"Normal"},{"x":8.3,"y":-22.6,"c":"Normal"},{"x":6.1,"y":-26.85,"c":"Normal"},{"x":-1.4,"y":-26.25,"c":"Normal"},{"x":-1.2,"y":-26.5,"c":"Normal"},{"x":-0.45,"y":-28.15,"c":"Normal"},{"x":0.85,"y":-27.4,"c":"Normal"},{"x":2.6,"y":-27.55,"c":"Normal"},{"x":3.6,"y":-27.4,"c":"Normal"},{"x":7.35,"y":-30.45,"c":"Normal"},{"x":8.05,"y":-31,"c":"Normal"},{"x":8.05,"y":-31.2,"c":"Normal"},{"x":1.1,"y":-32.3,"c":"Normal"},{"x":1.1,"y":-32.9,"c":"Normal"},{"x":0.9,"y":-34.2,"c":"Normal"},{"x":13.1,"y":-34.05,"c":"Normal"},{"x":23.2,"y":-19.6,"c":"Normal"},{"x":25.5,"y":-18.75,"c":"Normal"},{"x":25.75,"y":-17.8,"c":"Normal"},{"x":28.2,"y":-18.85,"c":"Normal"},{"x":29.3,"y":-19.55,"c":"Normal"},{"x":38,"y":-23.8,"c":"Normal"},{"x":38.65,"y":-24,"c":"Normal"},{"x":38.3,"y":-22.85,"c":"Normal"},{"x":38.45,"y":-22.05,"c":"Normal"},{"x":20.1,"y":-29.3,"c":"Normal"},{"x":20.65,"y":-29.6,"c":"Normal"},{"x":21.05,"y":-29,"c":"Normal"},{"x":21.8,"y":-28.5,"c":"Normal"},{"x":18.2,"y":-46,"c":"Normal"},
{"x":-25.05,"y":23.3,"c":"Covid"},{"x":-25.7,"y":22.9,"c":"Covid"},{"x":-26.4,"y":22.5,"c":"Covid"},{"x":-28.7,"y":17.7,"c":"Covid"},{"x":-31.4,"y":12.8,"c":"Covid"},{"x":-3.55,"y":27.2,"c":"Covid"},{"x":-3.55,"y":27.3,"c":"Covid"},{"x":-1.4,"y":22.1,"c":"Covid"},{"x":-1.4,"y":22,"c":"Covid"},{"x":-5.75,"y":20.5,"c":"Covid"},{"x":-12.7,"y":18.8,"c":"Covid"},{"x":-12.05,"y":18.8,"c":"Covid"},{"x":-4.6,"y":15.7,"c":"Covid"},{"x":-4.4,"y":15.2,"c":"Covid"},{"x":-15.1,"y":14.3,"c":"Covid"},{"x":4.25,"y":19.7,"c":"Covid"},{"x":4.25,"y":24.05,"c":"Covid"},{"x":11.8,"y":16.9,"c":"Covid"},{"x":8.4,"y":32.6,"c":"Covid"},{"x":9.1,"y":32.1,"c":"Covid"},{"x":9.6,"y":31.6,"c":"Covid"},{"x":10,"y":31,"c":"Covid"},{"x":6.5,"y":30.9,"c":"Covid"},{"x":5.3,"y":30.4,"c":"Covid"},{"x":6.8,"y":29.5,"c":"Covid"},{"x":4.5,"y":29.3,"c":"Covid"},{"x":3.2,"y":29,"c":"Covid"},{"x":7.2,"y":28.6,"c":"Covid"},{"x":4.35,"y":28,"c":"Covid"},{"x":5.6,"y":27.6,"c":"Covid"},{"x":6.65,"y":27.1,"c":"Covid"},{"x":3.8,"y":27,"c":"Covid"},{"x":4.5,"y":26,"c":"Covid"},{"x":5.85,"y":25.8,"c":"Covid"},{"x":5.3,"y":13.4,"c":"Covid"},{"x":4.9,"y":12.6,"c":"Covid"},{"x":4,"y":11.6,"c":"Covid"},{"x":12.7,"y":12.6,"c":"Covid"},{"x":-4,"y":12,"c":"Covid"},{"x":0.4,"y":11.7,"c":"Covid"},{"x":7.05,"y":40.6,"c":"Covid"},{"x":15.5,"y":36.6,"c":"Covid"},{"x":16.45,"y":34.7,"c":"Covid"},{"x":16.45,"y":34.6,"c":"Covid"},{"x":32.1,"y":29.2,"c":"Covid"},{"x":32.1,"y":29.1,"c":"Covid"},{"x":18.3,"y":22.8,"c":"Covid"},{"x":18,"y":22,"c":"Covid"},{"x":17.7,"y":21.25,"c":"Covid"},{"x":23,"y":18.1,"c":"Covid"},{"x":30.4,"y":20.3,"c":"Covid"},{"x":31,"y":18.2,"c":"Covid"},{"x":33.3,"y":19.5,"c":"Covid"},{"x":34,"y":19.5,"c":"Covid"},{"x":37.4,"y":18.5,"c":"Covid"},{"x":35.5,"y":16.5,"c":"Covid"},{"x":34,"y":16.1,"c":"Covid"},{"x":31,"y":15.3,"c":"Covid"},{"x":32.8,"y":14.7,"c":"Covid"},{"x":32,"y":14,"c":"Covid"},{"x":34.7,"y":14.3,"c":"Covid"},{"x":35.5,"y":13.7,"c":"Covid"},{"x":33.5,"y":13,"c":"Covid"},{"x":31.6,"y":12.7,"c":"Covid"},{"x":29.4,"y":12.4,"c":"Covid"},{"x":31,"y":11.6,"c":"Covid"},{"x":35,"y":11.9,"c":"Covid"},{"x":26.8,"y":17.4,"c":"Covid"},{"x":26.2,"y":16.6,"c":"Covid"},{"x":24.4,"y":15.7,"c":"Covid"},{"x":25.8,"y":14.6,"c":"Covid"},{"x":22.9,"y":14.6,"c":"Covid"},{"x":23.1,"y":13.8,"c":"Covid"},{"x":23.5,"y":13.3,"c":"Covid"},{"x":25,"y":13.5,"c":"Covid"},{"x":26.3,"y":12.6,"c":"Covid"},
{"x":-30.8,"y":11.5,"c":"Covid"},{"x":-29,"y":11.7,"c":"Covid"},{"x":-32.3,"y":10.7,"c":"Covid"},{"x":-38.9,"y":7.9,"c":"Covid"},{"x":-35,"y":8.5,"c":"Covid"},{"x":-27,"y":10,"c":"Covid"},{"x":-27.9,"y":9.3,"c":"Covid"},{"x":-29.25,"y":7.65,"c":"Covid"},{"x":-28.8,"y":7.25,"c":"Covid"},{"x":-31,"y":6.1,"c":"Covid"},{"x":-29.7,"y":6.1,"c":"Covid"},{"x":-45.3,"y":5.9,"c":"Covid"},{"x":-44.9,"y":5,"c":"Covid"},{"x":-34.1,"y":4.8,"c":"Covid"},{"x":-30.3,"y":3.9,"c":"Covid"},{"x":-28.05,"y":4.5,"c":"Covid"},{"x":-35.4,"y":0.55,"c":"Covid"},{"x":-34.6,"y":0.45,"c":"Covid"},{"x":-39.7,"y":-0.05,"c":"Covid"},{"x":-39.1,"y":-0.05,"c":"Covid"},{"x":-34.1,"y":-1.6,"c":"Covid"},{"x":-27.35,"y":1.1,"c":"Covid"},{"x":-25.85,"y":0.35,"c":"Covid"},{"x":-29.6,"y":-1.2,"c":"Covid"},{"x":-32.15,"y":-2.35,"c":"Covid"},{"x":-31.9,"y":-3.3,"c":"Covid"},{"x":-30.1,"y":-2.45,"c":"Covid"},{"x":-27.4,"y":-3.5,"c":"Covid"},{"x":-24.6,"y":-2.1,"c":"Covid"},{"x":-30.15,"y":-4.5,"c":"Covid"},{"x":-25.5,"y":-4.35,"c":"Covid"},{"x":-25.3,"y":-4.75,"c":"Covid"},{"x":-41.4,"y":-3.9,"c":"Covid"},{"x":-41.2,"y":-3.9,"c":"Covid"},{"x":-38.4,"y":-4,"c":"Covid"},{"x":-37.6,"y":-3.85,"c":"Covid"},{"x":-35.8,"y":-4,"c":"Covid"},{"x":-51.4,"y":-3.75,"c":"Covid"},{"x":-51.3,"y":-4.4,"c":"Covid"},{"x":-50.3,"y":-4.25,"c":"Covid"},{"x":-49.6,"y":-4.9,"c":"Covid"},{"x":-49.1,"y":-5.6,"c":"Covid"},{"x":-35,"y":-7.4,"c":"Covid"},{"x":-35,"y":-7.3,"c":"Covid"},{"x":-30.6,"y":-6.9,"c":"Covid"},{"x":-30.6,"y":-7,"c":"Covid"},{"x":-27.45,"y":-5.8,"c":"Covid"},{"x":-23.7,"y":-5.9,"c":"Covid"},{"x":-22.8,"y":-5.9,"c":"Covid"},{"x":-24.8,"y":-7.05,"c":"Covid"},{"x":-24.25,"y":-7.7,"c":"Covid"},{"x":-29.35,"y":-8.95,"c":"Covid"},{"x":-38.55,"y":-9.35,"c":"Covid"},{"x":-38.4,"y":-10.2,"c":"Covid"},{"x":-30.05,"y":-10.75,"c":"Covid"},{"x":-25.55,"y":-11.25,"c":"Covid"},{"x":-24.6,"y":-12,"c":"Covid"},{"x":-41.6,"y":-12.55,"c":"Covid"},{"x":-41.35,"y":-12.8,"c":"Covid"},{"x":-35.1,"y":-13.85,"c":"Covid"},{"x":-27.8,"y":-13.45,"c":"Covid"},{"x":-26.65,"y":-13.8,"c":"Covid"},{"x":-25.3,"y":-14,"c":"Covid"},{"x":-22.9,"y":-13.1,"c":"Covid"},{"x":-21.65,"y":-13.2,"c":"Covid"},{"x":-21.8,"y":-10.2,"c":"Covid"},{"x":-21.55,"y":-10.5,"c":"Covid"},{"x":-19.5,"y":-10.8,"c":"Covid"},{"x":-40.8,"y":-14.8,"c":"Covid"},{"x":-40.5,"y":-15.95,"c":"Covid"},{"x":-34.3,"y":-16.35,"c":"Covid"},{"x":-29.25,"y":-15.95,"c":"Covid"},{"x":-23.3,"y":-16.9,"c":"Covid"},{"x":-30.4,"y":-18,"c":"Covid"},{"x":-29.2,"y":-18.3,"c":"Covid"},{"x":-19.95,"y":2.4,"c":"Covid"},{"x":-20.05,"y":-2.3,"c":"Covid"},{"x":-21.8,"y":10.6,"c":"Covid"},{"x":-22.4,"y":11.5,"c":"Covid"},{"x":-24.35,"y":11.5,"c":"Covid"},{"x":-18.9,"y":5.9,"c":"Covid"},
{"x":-18.35,"y":11.5,"c":"Covid"},{"x":-13.5,"y":11.5,"c":"Covid"},{"x":-11,"y":10,"c":"Covid"},{"x":-15,"y":8.9,"c":"Covid"},{"x":-13.7,"y":7.5,"c":"Covid"},{"x":-7.3,"y":9.15,"c":"Covid"},{"x":-7.85,"y":8.4,"c":"Covid"},{"x":-8.8,"y":7.65,"c":"Covid"},{"x":-18.45,"y":5.75,"c":"Covid"},{"x":-14.3,"y":5.6,"c":"Covid"},{"x":-8.4,"y":3.65,"c":"Covid"},{"x":-8.1,"y":3.4,"c":"Covid"},{"x":-5.3,"y":1.95,"c":"Covid"},{"x":3.6,"y":1,"c":"Covid"},{"x":6.95,"y":4.2,"c":"Covid"},{"x":7.6,"y":1.9,"c":"Covid"},{"x":10.4,"y":1.9,"c":"Covid"},{"x":11.4,"y":2.4,"c":"Covid"},{"x":13.4,"y":1.7,"c":"Covid"},{"x":12.85,"y":0.2,"c":"Covid"},{"x":6.65,"y":-0.4,"c":"Covid"},{"x":8,"y":-1.55,"c":"Covid"},{"x":9.6,"y":-1.7,"c":"Covid"},{"x":10.85,"y":-1.8,"c":"Covid"},{"x":13.65,"y":-2.1,"c":"Covid"},{"x":6.95,"y":-2.8,"c":"Covid"},{"x":9.25,"y":-4.25,"c":"Covid"},{"x":10.4,"y":-4.25,"c":"Covid"},{"x":6.9,"y":-5.4,"c":"Covid"},{"x":6.1,"y":-7.05,"c":"Covid"},{"x":5.05,"y":-7.8,"c":"Covid"},{"x":0,"y":-4.7,"c":"Covid"},{"x":-0.5,"y":-6.3,"c":"Covid"},{"x":0.2,"y":-6.9,"c":"Covid"},{"x":1.55,"y":-7.15,"c":"Covid"},{"x":2.5,"y":-7.7,"c":"Covid"},{"x":-1.5,"y":-7.8,"c":"Covid"},{"x":0,"y":-8.6,"c":"Covid"},{"x":-4.8,"y":-8.25,"c":"Covid"},{"x":-3,"y":-8,"c":"Covid"},{"x":-2.75,"y":-9.35,"c":"Covid"},{"x":-8.65,"y":-10.3,"c":"Covid"},{"x":-13.1,"y":-10,"c":"Covid"},{"x":0.2,"y":-10.75,"c":"Covid"},{"x":0.85,"y":-10.3,"c":"Covid"},{"x":1.65,"y":-10.75,"c":"Covid"},{"x":5.2,"y":-10,"c":"Covid"},{"x":8.1,"y":-10.1,"c":"Covid"},{"x":-10.3,"y":-7.5,"c":"Covid"},{"x":-10,"y":-8.2,"c":"Covid"},{"x":-16.55,"y":-5,"c":"Covid"},{"x":-14.45,"y":-4.9,"c":"Covid"},{"x":-17.9,"y":-5.9,"c":"Covid"},{"x":-16.85,"y":-6.2,"c":"Covid"},{"x":-17.55,"y":-7.7,"c":"Covid"},{"x":-15.3,"y":-0.65,"c":"Covid"},{"x":-8.4,"y":-1.1,"c":"Covid"},{"x":-18.1,"y":-13.7,"c":"Covid"},{"x":-14.75,"y":-14.3,"c":"Covid"},{"x":-11.6,"y":-13.6,"c":"Covid"},{"x":-10.7,"y":-13.2,"c":"Covid"},{"x":-5.3,"y":-13.3,"c":"Covid"},{"x":0.75,"y":-14.8,"c":"Covid"},{"x":-2.3,"y":-15.9,"c":"Covid"},{"x":-1.95,"y":-16.5,"c":"Covid"},{"x":-17.15,"y":-16.35,"c":"Covid"},{"x":-13.25,"y":-17.4,"c":"Covid"},{"x":-4.35,"y":-17.3,"c":"Covid"},{"x":0.5,"y":-17,"c":"Covid"},{"x":3.55,"y":-16.9,"c":"Covid"},{"x":-11.35,"y":-18,"c":"Covid"},{"x":-3.8,"y":10.8,"c":"Covid"},{"x":-2.85,"y":10.7,"c":"Covid"},{"x":-0.6,"y":10,"c":"Covid"},{"x":-0.05,"y":9,"c":"Covid"},{"x":0.5,"y":11,"c":"Covid"},{"x":2.6,"y":10.6,"c":"Covid"},{"x":4.1,"y":11.2,"c":"Covid"},{"x":6.4,"y":10,"c":"Covid"},{"x":15.3,"y":3.7,"c":"Covid"},{"x":15.8,"y":-3,"c":"Covid"},
{"x":16.2,"y":10.7,"c":"Covid"},{"x":18.9,"y":10.4,"c":"Covid"},{"x":21.35,"y":10.3,"c":"Covid"},{"x":21.35,"y":9.4,"c":"Covid"},{"x":22.5,"y":9.8,"c":"Covid"},{"x":23.6,"y":10.8,"c":"Covid"},{"x":26.3,"y":8.8,"c":"Covid"},{"x":26.45,"y":8.9,"c":"Covid"},{"x":25.5,"y":7.65,"c":"Covid"},{"x":20.8,"y":7.35,"c":"Covid"},{"x":15.65,"y":7.5,"c":"Covid"},{"x":35.05,"y":11.6,"c":"Covid"},{"x":31,"y":11.2,"c":"Covid"},{"x":33.75,"y":10,"c":"Covid"},{"x":34.8,"y":9.8,"c":"Covid"},{"x":31.65,"y":9.55,"c":"Covid"},{"x":38.5,"y":8.9,"c":"Covid"},{"x":37.45,"y":7.5,"c":"Covid"},{"x":37,"y":6.7,"c":"Covid"},{"x":37.15,"y":6,"c":"Covid"},{"x":28.6,"y":6.1,"c":"Covid"},{"x":29.8,"y":4.8,"c":"Covid"},{"x":16.6,"y":1.5,"c":"Covid"},{"x":22,"y":1.7,"c":"Covid"},{"x":21.3,"y":0.6,"c":"Covid"},{"x":18.75,"y":0,"c":"Covid"},{"x":19.1,"y":-0.65,"c":"Covid"},{"x":22,"y":-1.55,"c":"Covid"},{"x":29.2,"y":0,"c":"Covid"},{"x":30.15,"y":-0.9,"c":"Covid"},{"x":29.6,"y":-1.6,"c":"Covid"},{"x":29.35,"y":-2.35,"c":"Covid"},{"x":32.5,"y":-1.3,"c":"Covid"},{"x":33,"y":-2.05,"c":"Covid"},{"x":16.2,"y":-2.9,"c":"Covid"},{"x":17.25,"y":-2.9,"c":"Covid"},{"x":17.4,"y":-3.75,"c":"Covid"},{"x":21.35,"y":-5.8,"c":"Covid"},{"x":21.25,"y":-7.45,"c":"Covid"},{"x":21.35,"y":-5.9,"c":"Covid"},{"x":34.2,"y":-5.1,"c":"Covid"},{"x":33.7,"y":-6.55,"c":"Covid"},{"x":38.65,"y":-3.1,"c":"Covid"},{"x":38,"y":-3.6,"c":"Covid"},{"x":39.15,"y":-7.4,"c":"Covid"},{"x":47,"y":2,"c":"Covid"},{"x":23.85,"y":-8.75,"c":"Covid"},{"x":22.9,"y":-9.25,"c":"Covid"},{"x":23.75,"y":-9.35,"c":"Covid"},{"x":16.25,"y":-10.2,"c":"Covid"},{"x":19.15,"y":-10.2,"c":"Covid"},{"x":29.5,"y":-10,"c":"Covid"},{"x":20.75,"y":-11,"c":"Covid"},{"x":22.15,"y":-11.55,"c":"Covid"},{"x":23.6,"y":-11.8,"c":"Covid"},{"x":20.8,"y":-12.6,"c":"Covid"},{"x":22.25,"y":-12.7,"c":"Covid"},{"x":22.25,"y":-14.1,"c":"Covid"},{"x":22,"y":-14.5,"c":"Covid"},{"x":21.9,"y":-15.3,"c":"Covid"},{"x":24.55,"y":-15.9,"c":"Covid"},{"x":20.2,"y":-17.3,"c":"Covid"},{"x":22.4,"y":-17.8,"c":"Covid"},{"x":36.95,"y":-12.8,"c":"Covid"},{"x":36.95,"y":-12.7,"c":"Covid"},
{"x":-26.05,"y":-19.1,"c":"Covid"},{"x":-22.85,"y":-20.4,"c":"Covid"},{"x":-21.8,"y":-20.1,"c":"Covid"},{"x":-19.95,"y":-19.1,"c":"Covid"},{"x":-19.1,"y":-19.8,"c":"Covid"},{"x":-38.65,"y":-21,"c":"Covid"},{"x":-38.65,"y":-20.9,"c":"Covid"},{"x":-27.6,"y":-23.6,"c":"Covid"},{"x":-26.9,"y":-23.45,"c":"Covid"},{"x":-31.35,"y":-28.7,"c":"Covid"},{"x":-31.35,"y":-28.6,"c":"Covid"},{"x":-26.2,"y":-28.55,"c":"Covid"},{"x":-21.6,"y":-33.2,"c":"Covid"},{"x":-21.6,"y":-33.1,"c":"Covid"},{"x":-15.9,"y":-19.1,"c":"Covid"},{"x":-13.2,"y":-17.7,"c":"Covid"},{"x":-11.35,"y":-18.35,"c":"Covid"},{"x":-8.7,"y":-19.7,"c":"Covid"},{"x":-8.3,"y":-21.4,"c":"Covid"},{"x":-6.8,"y":-21.75,"c":"Covid"},{"x":-6.8,"y":-21.65,"c":"Covid"},{"x":-12.75,"y":-24.6,"c":"Covid"},{"x":-13,"y":-25.75,"c":"Covid"},{"x":-7.3,"y":-24.05,"c":"Covid"},{"x":-7.75,"y":-24.8,"c":"Covid"},{"x":-8,"y":-25.5,"c":"Covid"},{"x":7.3,"y":-24.15,"c":"Covid"},{"x":7.3,"y":-24.05,"c":"Covid"},{"x":13.4,"y":-21.3,"c":"Covid"},{"x":12.45,"y":-24.05,"c":"Covid"},{"x":13.55,"y":-24.05,"c":"Covid"},{"x":-11,"y":-33.2,"c":"Covid"},{"x":-9.5,"y":-34.85,"c":"Covid"},{"x":-9.85,"y":-35.2,"c":"Covid"},{"x":-10.8,"y":-35.7,"c":"Covid"},{"x":-8.1,"y":-35.2,"c":"Covid"},{"x":-7.3,"y":-35.45,"c":"Covid"},{"x":17.85,"y":-21.65,"c":"Covid"},{"x":17.85,"y":-21.55,"c":"Covid"}
]},"mark":{"type":"point","filled":true,"size":185,"stroke":"black","strokeWidth":1,"opacity":0.9},"encoding":{"x":{"field":"x","type":"quantitative"},"y":{"field":"y","type":"quantitative"},"color":{"field":"c","type":"nominal","scale":{"domain":["Normal","Covid"],"range":["#0000ff","#ff0000"]},"legend":{"title":null,"orient":"none","legendX":379,"legendY":9,"direction":"horizontal","columns":2,"fillColor":"rgba(255,255,255,0.8)","strokeColor":"#cccccc","cornerRadius":4,"padding":6,"labelFontSize":18,"labelFont":"DejaVu Sans","labelColor":"black","labelOffset":21,"symbolSize":185,"symbolType":"circle","symbolStrokeColor":"black","symbolStrokeWidth":1,"symbolOpacity":0.85,"columnPadding":28,"symbolOffset":8}}}}]}]}
